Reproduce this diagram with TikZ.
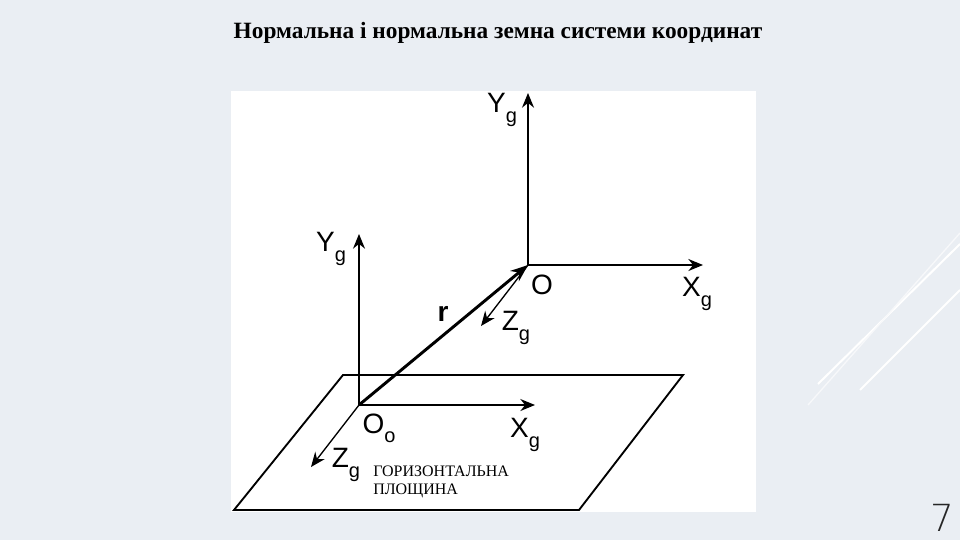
\documentclass[tikz,border=0pt]{standalone}
\usepackage{fontspec}
\setmainfont{Liberation Serif}
\newfontfamily\lsans{Liberation Sans}
\newfontfamily\dsans{DejaVu Sans ExtraLight}
\usetikzlibrary{arrows.meta}
\definecolor{bg}{HTML}{EAEEF3}
\begin{document}
\begin{tikzpicture}[x=0.75pt,y=-0.75pt,
  ax/.style={line width=1pt,-{Stealth[length=11pt,width=9pt]}},
  lab/.style={font=\lsans\fontsize{21}{21}\selectfont,inner sep=0pt},
  pl/.style={line width=1.4pt}]
\useasboundingbox (0,0) rectangle (960,540);
\fill[bg] (0,0) rectangle (960,540);
\draw[white,line width=1.5pt] (818,384) -- (960,244);
\draw[white,line width=1.5pt] (860,390) -- (960,290);
\draw[white!60!bg,line width=1pt] (808,405) -- (960,233);
\fill[white] (231,91) rectangle (756,512);
\node[font=\bfseries\fontsize{17.5}{18}\selectfont] (title) at (498,33) {Нормальна і нормальна земна системи координат};
% plane
\coordinate (p1) at (343,375); \coordinate (p2) at (683,375);
\coordinate (p3) at (579,510); \coordinate (p4) at (234,510);
\draw[pl] (p1) -- (p2) -- (p3) -- (p4) -- cycle;
% upper frame
\coordinate (O) at (528,265);
\coordinate (Ytop) at (528,93); \coordinate (Xr) at (703,265); \coordinate (Zu) at (481,326);
\draw[ax] (O) -- (Ytop);
\draw[ax] (O) -- (Xr);
\draw[ax] (O) -- (Zu);
% lower frame
\coordinate (O0) at (359,405);
\coordinate (Y0) at (359,234); \coordinate (X0) at (535,405); \coordinate (Z0) at (311,467);
\draw[ax] (O0) -- (Y0);
\draw[ax] (O0) -- (X0);
\draw[ax] (O0) -- (Z0);
\draw[line width=2.2pt,-{Stealth[length=13pt,width=10pt]}] (O0) -- (O);
% labels
\node[lab] (lY1) at (502,110) {Y\raisebox{-7pt}{\fontsize{15}{15}\selectfont g}};
\node[lab] (lO) at (542,285) {O};
\node[lab] (lX1) at (697,294) {X\raisebox{-7pt}{\fontsize{15}{15}\selectfont g}};
\node[lab] (lZ1) at (516,328) {Z\raisebox{-7pt}{\fontsize{15}{15}\selectfont g}};
\node[lab,font=\lsans\bfseries\fontsize{21}{21}\selectfont] (lr) at (443,314) {r};
\node[lab] (lY0) at (331,249) {Y\raisebox{-7pt}{\fontsize{15}{15}\selectfont g}};
\node[lab] (lO0) at (379,428) {O\raisebox{-7pt}{\fontsize{15}{15}\selectfont o}};
\node[lab] (lX0) at (525,435) {X\raisebox{-7pt}{\fontsize{15}{15}\selectfont g}};
\node[lab] (lZ0) at (346,465) {Z\raisebox{-7pt}{\fontsize{15}{15}\selectfont g}};
\node[anchor=west,align=left,inner sep=0pt,font=\fontsize{12}{14}\selectfont] (hp) at (373,482) {ГОРИЗОНТАЛЬНА\\ПЛОЩИНА};
\node[font=\dsans\fontsize{28}{28}\selectfont\color{black!85}] (pg) at (942,518) {7};
\end{tikzpicture}
\end{document}
